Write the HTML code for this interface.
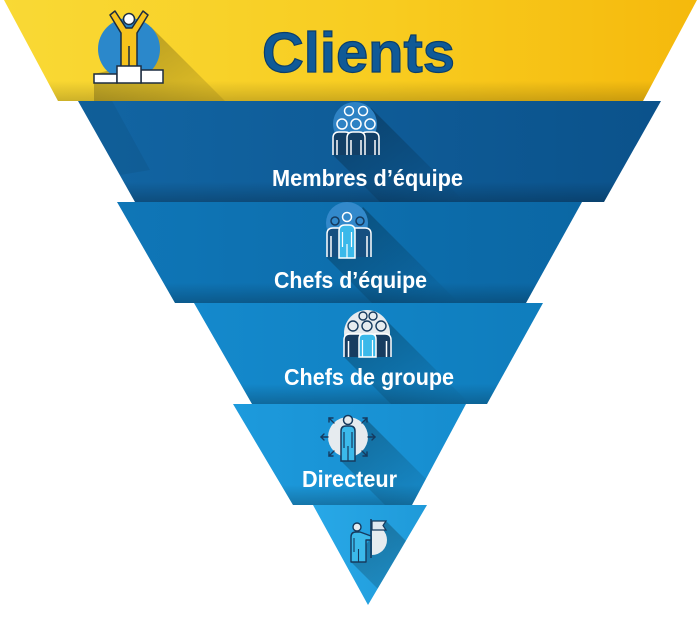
<!DOCTYPE html>
<html><head><meta charset="utf-8">
<style>
html,body{margin:0;padding:0;background:#fff;}
svg{display:block;}
text{font-family:"Liberation Sans",Arial,sans-serif;font-weight:bold;}
</style></head><body>
<svg width="700" height="622" viewBox="0 0 700 622" xmlns="http://www.w3.org/2000/svg">
<defs>
 <linearGradient id="gY" x1="0" x2="1" y1="0" y2="0"><stop offset="0" stop-color="#f9d935"/><stop offset="0.55" stop-color="#f8cc20"/><stop offset="1" stop-color="#f5b90c"/></linearGradient>
 <linearGradient id="g2" x1="0" x2="1" y1="0" y2="0"><stop offset="0" stop-color="#1265a3"/><stop offset="1" stop-color="#0b528b"/></linearGradient>
 <linearGradient id="g3" x1="0" x2="1" y1="0" y2="0"><stop offset="0" stop-color="#0f76b7"/><stop offset="1" stop-color="#0b67a4"/></linearGradient>
 <linearGradient id="g4" x1="0" x2="1" y1="0" y2="0"><stop offset="0" stop-color="#1489cc"/><stop offset="1" stop-color="#0f7dbd"/></linearGradient>
 <linearGradient id="g5" x1="0" x2="1" y1="0" y2="0"><stop offset="0" stop-color="#1d9adc"/><stop offset="1" stop-color="#168dcf"/></linearGradient>
 <linearGradient id="g6" x1="0" x2="1" y1="0" y2="0"><stop offset="0" stop-color="#28a8e7"/><stop offset="1" stop-color="#1f9ad9"/></linearGradient>
 <linearGradient id="bs" x1="0" y1="0" x2="0" y2="1"><stop offset="0.8" stop-color="#000" stop-opacity="0"/><stop offset="1" stop-color="#000" stop-opacity="0.22"/></linearGradient>
 <linearGradient id="ls" x1="0" y1="0" x2="1" y2="1"><stop offset="0" stop-color="#000" stop-opacity="0.3"/><stop offset="1" stop-color="#000" stop-opacity="0"/></linearGradient>
 <clipPath id="c1"><polygon points="4,0 697,0 643,101 58,101"/></clipPath>
 <clipPath id="c2"><polygon points="78,101 661,101 604,202 135,202"/></clipPath>
 <clipPath id="c3"><polygon points="117,202 582,202 526,303 175,303"/></clipPath>
 <clipPath id="c4"><polygon points="194,303 543,303 487,404 252,404"/></clipPath>
 <clipPath id="c5"><polygon points="233,404 466,404 412,505 293,505"/></clipPath>
 <clipPath id="c6"><polygon points="313,505 427,505 368,605"/></clipPath>
</defs>

<!-- Band 1 yellow -->
<polygon points="4,0 697,0 643,101 58,101" fill="url(#gY)"/>
<rect x="0" y="0" width="700" height="101" fill="url(#bs)" clip-path="url(#c1)" opacity="0.8"/>
<polygon points="151,27 262,138 130,138 94,102 94,74 107,71" fill="url(#ls)" clip-path="url(#c1)"/>
<circle cx="129" cy="49" r="31" fill="#2b88cb"/>
<path d="M110,15 L115,11 L126,28 L132,28 L143,11 L148,15 L137,33 L137,67 L121,67 L121,33 Z" fill="#f6c21c" stroke="#1c2c40" stroke-width="1.5" stroke-linejoin="round"/>
<line x1="129" y1="46" x2="129" y2="66" stroke="#1c2c40" stroke-width="1.5"/>
<circle cx="129" cy="19" r="5.5" fill="#fff" stroke="#1c2c40" stroke-width="1.5"/>
<rect x="94" y="74" width="23" height="9" fill="#fff" stroke="#1c2c40" stroke-width="1.5"/>
<rect x="141" y="70" width="22" height="13" fill="#fff" stroke="#1c2c40" stroke-width="1.5"/>
<rect x="117" y="66" width="24" height="17" fill="#fff" stroke="#1c2c40" stroke-width="1.5"/>
<text x="262" y="72" textLength="193" lengthAdjust="spacingAndGlyphs" font-size="57" fill="#105a97" stroke="#0b3e6b" stroke-width="1.2">Clients</text>

<!-- Band 2 -->
<polygon points="78,101 661,101 604,202 135,202" fill="url(#g2)"/>
<rect x="0" y="101" width="700" height="101" fill="url(#bs)" clip-path="url(#c2)"/>
<polygon points="78,101 112,101 150,170 120,175" fill="#000" opacity="0.06" clip-path="url(#c2)"/>
<polygon points="371,108 465,202 380,202 333,155" fill="url(#ls)" clip-path="url(#c2)"/>
<circle cx="355" cy="124" r="22" fill="#2e82c4"/>
<g fill="#2e82c4" stroke="#fff" stroke-width="1.5">
 <circle cx="349" cy="111" r="4.5"/><circle cx="363" cy="111" r="4.5"/>
 <circle cx="342" cy="124" r="5"/><circle cx="356" cy="124" r="5"/><circle cx="370" cy="124" r="5"/>
</g>
<g fill="#123f66" stroke="#fff" stroke-width="1.5">
 <path d="M333,155 V138 Q333,132 339,132 H345 Q351,132 351,138 V155"/>
 <path d="M361,155 V138 Q361,132 367,132 H373 Q379,132 379,138 V155"/>
 <path d="M347,155 V138 Q347,132 353,132 H359 Q365,132 365,138 V155"/>
 <line x1="337" y1="140" x2="337" y2="155"/><line x1="375" y1="140" x2="375" y2="155"/>
 <line x1="351" y1="140" x2="351" y2="155"/><line x1="361" y1="140" x2="361" y2="155"/>
</g>
<text x="272" y="186" textLength="191" lengthAdjust="spacingAndGlyphs" font-size="23" fill="#fff">Membres d’équipe</text>

<!-- Band 3 -->
<polygon points="117,202 582,202 526,303 175,303" fill="url(#g3)"/>
<rect x="0" y="202" width="700" height="101" fill="url(#bs)" clip-path="url(#c3)"/>
<polygon points="363,207 459,303 372,303 327,258" fill="url(#ls)" clip-path="url(#c3)"/>
<circle cx="347" cy="223" r="21" fill="#3389cb"/>
<circle cx="335" cy="221" r="4" fill="#3389cb" stroke="#163a5e" stroke-width="1.5"/>
<circle cx="360" cy="221" r="4" fill="#3389cb" stroke="#163a5e" stroke-width="1.5"/>
<g fill="#164f80" stroke="#fff" stroke-width="1.5">
 <path d="M327,257 V234 Q327,228 333,228 H340 V257"/>
 <path d="M371,257 V234 Q371,228 365,228 H354 V257"/>
 <line x1="331" y1="236" x2="331" y2="257"/><line x1="367" y1="236" x2="367" y2="257"/>
</g>
<path d="M339,258 V231 Q339,225 345,225 H349 Q355,225 355,231 V258 Z" fill="#3bb9ea" stroke="#fff" stroke-width="1.5"/>
<g stroke="#fff" stroke-width="1.2"><line x1="342.5" y1="232" x2="342.5" y2="247"/><line x1="351.5" y1="232" x2="351.5" y2="247"/><line x1="347" y1="244" x2="347" y2="258"/></g>
<circle cx="347" cy="217" r="4.5" fill="#3389cb" stroke="#fff" stroke-width="1.5"/>
<text x="274" y="288" textLength="153" lengthAdjust="spacingAndGlyphs" font-size="23" fill="#fff">Chefs d’équipe</text>

<!-- Band 4 -->
<polygon points="194,303 543,303 487,404 252,404" fill="url(#g4)"/>
<rect x="0" y="303" width="700" height="101" fill="url(#bs)" clip-path="url(#c4)"/>
<polygon points="383,317 470,404 391,404 344,357" fill="url(#ls)" clip-path="url(#c4)"/>
<circle cx="367" cy="333" r="23" fill="#e6ebef"/>
<g fill="#e6ebef" stroke="#163a5e" stroke-width="1.4">
 <circle cx="363" cy="316" r="4"/><circle cx="373" cy="316" r="4"/>
 <circle cx="353" cy="326" r="5"/><circle cx="367" cy="326" r="5"/><circle cx="381" cy="326" r="5"/>
</g>
<g fill="#173c60" stroke="#fff" stroke-width="1.5">
 <path d="M344,357 V340 Q344,334 350,334 H360 V357"/>
 <path d="M391,357 V340 Q391,334 385,334 H375 V357"/>
 <line x1="348.5" y1="341" x2="348.5" y2="357"/><line x1="386.5" y1="341" x2="386.5" y2="357"/>
</g>
<path d="M359,357 V339 Q359,334 364,334 H371 Q376,334 376,339 V357 Z" fill="#3bb9ea" stroke="#fff" stroke-width="1.5"/>
<g stroke="#fff" stroke-width="1.2"><line x1="362.5" y1="340" x2="362.5" y2="357"/><line x1="372.5" y1="340" x2="372.5" y2="357"/></g>
<text x="284" y="385" textLength="170" lengthAdjust="spacingAndGlyphs" font-size="23" fill="#fff">Chefs de groupe</text>

<!-- Band 5 -->
<polygon points="233,404 466,404 412,505 293,505" fill="url(#g5)"/>
<rect x="0" y="404" width="700" height="101" fill="url(#bs)" clip-path="url(#c5)"/>
<polygon points="366,419 452,505 385,505 341,461" fill="url(#ls)" clip-path="url(#c5)"/>
<circle cx="348" cy="437" r="20" fill="#e6ebef"/>
<g stroke="#163a5e" stroke-width="1.4" fill="none" stroke-linecap="round">
 <line x1="328" y1="437" x2="321" y2="437"/><polyline points="324,434 321,437 324,440"/>
 <line x1="368" y1="437" x2="375" y2="437"/><polyline points="372,434 375,437 372,440"/>
 <line x1="334" y1="423" x2="329" y2="418"/><polyline points="329,422 329,418 333,418"/>
 <line x1="362" y1="423" x2="367" y2="418"/><polyline points="363,418 367,418 367,422"/>
 <line x1="334" y1="451" x2="329" y2="456"/><polyline points="329,452 329,456 333,456"/>
 <line x1="362" y1="451" x2="367" y2="456"/><polyline points="367,452 367,456 363,456"/>
</g>
<path d="M341,461 V431 Q341,426 346,426 H350 Q355,426 355,431 V461 Z" fill="#3bb9ea" stroke="#163a5e" stroke-width="1.5"/>
<g stroke="#163a5e" stroke-width="1.2"><line x1="344" y1="432" x2="344" y2="448"/><line x1="352" y1="432" x2="352" y2="448"/><line x1="348" y1="446" x2="348" y2="461"/></g>
<circle cx="348" cy="420" r="4.5" fill="#e6ebef" stroke="#163a5e" stroke-width="1.5"/>
<text x="302" y="487" textLength="95" lengthAdjust="spacingAndGlyphs" font-size="23" fill="#fff">Directeur</text>

<!-- Band 6 -->
<polygon points="313,505 427,505 368,605" fill="url(#g6)"/>
<polygon points="386,521 470,605 394,605 351,562" fill="url(#ls)" clip-path="url(#c6)"/>
<path d="M372,525 A15,15 0 0 1 372,555 Z" fill="#e6ebef"/>
<path d="M372,521 H386 L383,525.5 L386,530 H372 Z" fill="#dfe8f0" stroke="#163a5e" stroke-width="1.2"/>
<line x1="371" y1="519" x2="371" y2="558" stroke="#163a5e" stroke-width="1.6"/>
<path d="M351,562 V537 Q351,532 356,532 H360 L371,536 V540 L366,540 V562 Z" fill="#3bb9ea" stroke="#163a5e" stroke-width="1.4" stroke-linejoin="round"/>
<g stroke="#163a5e" stroke-width="1.1"><line x1="354" y1="538" x2="354" y2="552"/><line x1="358.5" y1="549" x2="358.5" y2="562"/></g>
<circle cx="357" cy="527" r="4" fill="#e6ebef" stroke="#163a5e" stroke-width="1.4"/>
</svg>
</body></html>
